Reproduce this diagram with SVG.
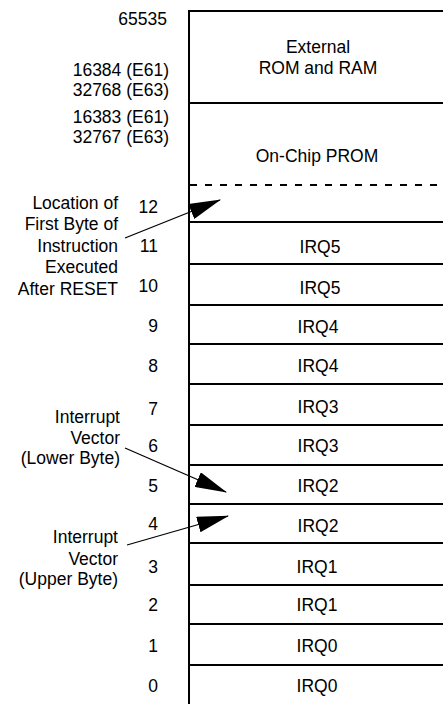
<svg xmlns="http://www.w3.org/2000/svg" width="443" height="704" viewBox="0 0 443 704">
<style>
text{font-family:"Liberation Sans",Arial,sans-serif;font-size:17.5px;fill:#000}
.r{text-anchor:end}
.m{text-anchor:middle}
.ln{stroke:#000;stroke-width:2;fill:none}
.dash{stroke:#000;stroke-width:2;stroke-dasharray:7 8;fill:none}
.ar{stroke:#000;stroke-width:1.3;fill:none;marker-end:url(#ah)}
</style>
<defs>
<marker id="ah" markerUnits="userSpaceOnUse" markerWidth="32" markerHeight="16" viewBox="0 0 30 15" refX="29" refY="7.5" orient="auto">
<path d="M0,0 L30,7.5 L0,15 z" fill="#000"/>
</marker>
</defs>
<g id="frame">
<line class="ln" x1="189" y1="11" x2="443" y2="11"/>
<line class="ln" x1="189" y1="10" x2="189" y2="704"/>
</g>
<g id="external">
<text class="m" x="318" y="53">External</text>
<text class="m" x="318" y="74">ROM and RAM</text>
<line class="ln" x1="189" y1="103" x2="443" y2="103"/>
</g>
<g id="prom">
<text class="m" x="317" y="162">On-Chip PROM</text>
<line class="dash" x1="190" y1="185" x2="443" y2="185"/>
</g>
<g id="addr-labels">
<text class="r" x="167" y="25">65535</text>
<text class="r" x="169" y="76">16384 (E61)</text>
<text class="r" x="169" y="96">32768 (E63)</text>
<text class="r" x="169" y="123">16383 (E61)</text>
<text class="r" x="169" y="143">32767 (E63)</text>
<text class="r" x="158" y="213">12</text>
<text class="r" x="158" y="252">11</text>
<text class="r" x="158" y="292">10</text>
<text class="r" x="158" y="332">9</text>
<text class="r" x="158" y="372">8</text>
<text class="r" x="158" y="415">7</text>
<text class="r" x="158" y="452">6</text>
<text class="r" x="158" y="492">5</text>
<text class="r" x="158" y="530">4</text>
<text class="r" x="158" y="573">3</text>
<text class="r" x="158" y="611">2</text>
<text class="r" x="158" y="652">1</text>
<text class="r" x="158" y="692">0</text>
</g>
<g id="cell12"><line class="ln" x1="189" y1="222" x2="443" y2="222"/></g>
<g id="cell11"><text class="m" x="320" y="253">IRQ5</text><line class="ln" x1="189" y1="264" x2="443" y2="264"/></g>
<g id="cell10"><text class="m" x="320" y="294">IRQ5</text><line class="ln" x1="189" y1="305" x2="443" y2="305"/></g>
<g id="cell9"><text class="m" x="318" y="333">IRQ4</text><line class="ln" x1="189" y1="344" x2="443" y2="344"/></g>
<g id="cell8"><text class="m" x="318" y="372">IRQ4</text><line class="ln" x1="189" y1="384" x2="443" y2="384"/></g>
<g id="cell7"><text class="m" x="318" y="413">IRQ3</text><line class="ln" x1="189" y1="425" x2="443" y2="425"/></g>
<g id="cell6"><text class="m" x="318" y="452">IRQ3</text><line class="ln" x1="189" y1="465" x2="443" y2="465"/></g>
<g id="cell5"><text class="m" x="318" y="492">IRQ2</text><line class="ln" x1="189" y1="504" x2="443" y2="504"/></g>
<g id="cell4"><text class="m" x="318" y="532">IRQ2</text><line class="ln" x1="189" y1="543" x2="443" y2="543"/></g>
<g id="cell3"><text class="m" x="317" y="573">IRQ1</text><line class="ln" x1="189" y1="585" x2="443" y2="585"/></g>
<g id="cell2"><text class="m" x="317" y="611">IRQ1</text><line class="ln" x1="189" y1="624" x2="443" y2="624"/></g>
<g id="cell1"><text class="m" x="317" y="652">IRQ0</text><line class="ln" x1="189" y1="665" x2="443" y2="665"/></g>
<g id="cell0"><text class="m" x="317" y="692">IRQ0</text></g>
<g id="note-reset">
<text class="r" x="118" y="209">Location of</text>
<text class="r" x="118" y="230">First Byte of</text>
<text class="r" x="118" y="252">Instruction</text>
<text class="r" x="118" y="273">Executed</text>
<text class="r" x="118" y="295">After RESET</text>
</g>
<g id="note-lower">
<text class="r" x="120" y="423">Interrupt</text>
<text class="r" x="120" y="444">Vector</text>
<text class="r" x="120" y="464">(Lower Byte)</text>
</g>
<g id="note-upper">
<text class="r" x="118" y="543">Interrupt</text>
<text class="r" x="118" y="565">Vector</text>
<text class="r" x="118" y="585">(Upper Byte)</text>
</g>
<g id="connectors">
<line class="ar" x1="125" y1="238" x2="220" y2="200"/>
<line class="ar" x1="125" y1="448" x2="226" y2="492"/>
<line class="ar" x1="127" y1="545" x2="228" y2="516"/>
</g>
</svg>
